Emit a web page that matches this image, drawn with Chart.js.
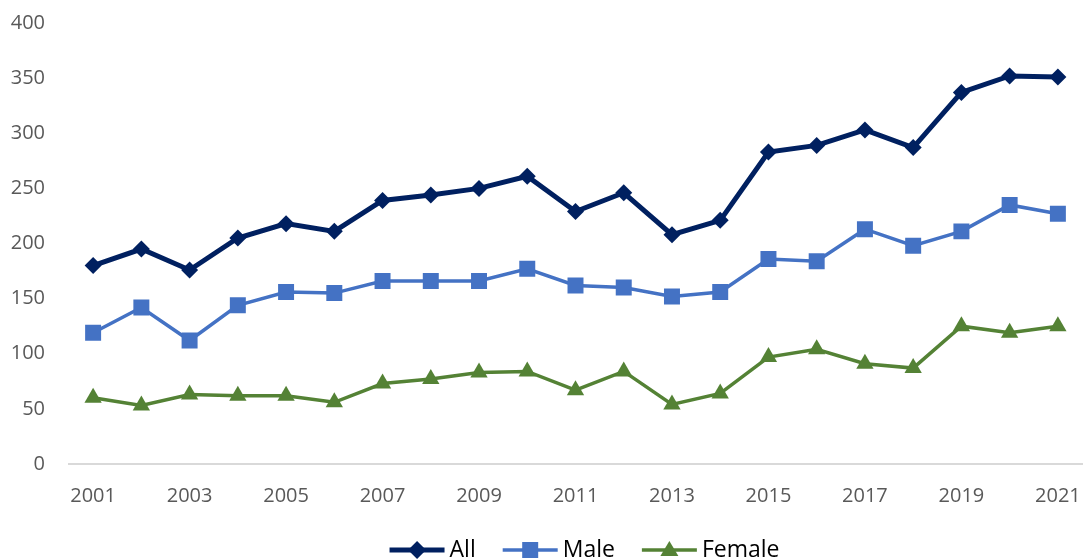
<!DOCTYPE html>
<html>
<head>
<meta charset="utf-8">
<script src="https://cdn.jsdelivr.net/npm/chart.js@4/dist/chart.umd.min.js"></script>
<style>
  html, body { margin: 0; padding: 0; background: #fff; }
  #wrap { width: 1083px; height: 560px; position: relative; }
</style>
</head>
<body>
<div id="wrap"><canvas id="chart"></canvas></div>
<script>
const YEARS = ['2001', '2002', '2003', '2004', '2005', '2006', '2007', '2008', '2009', '2010',
  '2011', '2012', '2013', '2014', '2015', '2016', '2017', '2018', '2019', '2020', '2021']

const ALL = [180, 195, 176, 205, 218, 211, 239, 244, 250, 261, 229, 246, 208, 221, 283, 289, 303, 287, 337, 352, 351]
const MALE = [119, 142, 112, 144, 156, 155, 166, 166, 166, 177, 162, 160, 152, 156, 186, 184, 213, 198, 211, 235, 227]
const FEMALE = [60, 53, 63, 62, 62, 56, 73, 77, 83, 84, 67, 84, 54, 64, 97, 104, 91, 87, 125, 119, 125]

const Y_TICKS = [0, 50, 100, 150, 200, 250, 300, 350, 400]

const TICK_COLOR = '#595959'
const FONT = "'Open Sans', 'Liberation Sans', sans-serif"

// legend drawn by hand so each entry shows line + marker like the original
const lineLegend = {
  id: 'lineLegend',
  afterDraw (chart) {
    const { ctx, chartArea } = chart
    const lineLen = 55
    const gap = 5
    const between = 27
    const y = 550
    ctx.save()
    ctx.font = `23px ${FONT}`
    ctx.textBaseline = 'middle'
    const items = chart.data.datasets.map((ds) => ({ ds, w: ctx.measureText(ds.label).width }))
    const total = items.reduce((s, it) => s + lineLen + gap + it.w, 0) + between * (items.length - 1)
    let x = (chartArea.left + chartArea.right) / 2 + 9 - total / 2
    items.forEach(({ ds, w }) => {
      ctx.strokeStyle = ds.borderColor
      ctx.lineWidth = ds.borderWidth
      ctx.beginPath()
      ctx.moveTo(x, y)
      ctx.lineTo(x + lineLen, y)
      ctx.stroke()
      const cx = x + lineLen / 2
      ctx.fillStyle = ds.pointBackgroundColor
      ctx.beginPath()
      if (ds.pointStyle === 'rectRot') {
        const r = 9
        ctx.moveTo(cx, y - r); ctx.lineTo(cx + r, y); ctx.lineTo(cx, y + r); ctx.lineTo(cx - r, y)
      } else if (ds.pointStyle === 'rect') {
        ctx.rect(cx - 8, y - 8, 16, 16)
      } else {
        ctx.moveTo(cx, y - 9); ctx.lineTo(cx + 9, y + 6); ctx.lineTo(cx - 9, y + 6)
      }
      ctx.closePath()
      ctx.fill()
      ctx.fillStyle = '#000'
      ctx.textAlign = 'left'
      ctx.fillText(ds.label, x + lineLen + gap, y)
      x += lineLen + gap + w + between
    })
    ctx.restore()
  }
}

new Chart(document.getElementById('chart'), {
  type: 'line',
  data: {
    labels: YEARS,
    datasets: [
      {
        label: 'All',
        data: ALL,
        borderColor: '#002060',
        backgroundColor: '#002060',
        pointBackgroundColor: '#002060',
        pointBorderColor: '#002060',
        borderWidth: 5,
        pointStyle: 'rectRot',
        pointRadius: 8.5,
        pointBorderWidth: 0,
        tension: 0
      },
      {
        label: 'Male',
        data: MALE,
        borderColor: '#4472C4',
        backgroundColor: '#4472C4',
        pointBackgroundColor: '#4472C4',
        pointBorderColor: '#4472C4',
        borderWidth: 3.5,
        pointStyle: 'rect',
        pointRadius: 11.3,
        pointBorderWidth: 0,
        tension: 0
      },
      {
        label: 'Female',
        data: FEMALE,
        borderColor: '#548235',
        backgroundColor: '#548235',
        pointBackgroundColor: '#548235',
        pointBorderColor: '#548235',
        borderWidth: 3.5,
        pointStyle: 'triangle',
        pointRadius: 10,
        pointBorderWidth: 0,
        tension: 0
      }
    ]
  },
  options: {
    responsive: true,
    maintainAspectRatio: false,
    animation: false,
    layout: { autoPadding: false, padding: { top: 23, right: 1, bottom: 46, left: 0 } },
    plugins: {
      legend: { display: false },
      tooltip: { enabled: false }
    },
    scales: {
      x: {
        offset: true,
        grid: { display: false, drawTicks: false },
        border: { display: true, color: '#d9d9d9', width: 2 },
        ticks: {
          autoSkip: false,
          maxRotation: 0,
          padding: 20,
          color: TICK_COLOR,
          font: { family: FONT, size: 20 },
          callback (value, index) { return index % 2 === 0 ? YEARS[index] : '' }
        },
        afterFit (scale) {
          scale.height = 50
          scale.paddingLeft = 0
          scale.paddingRight = 0
        }
      },
      y: {
        min: 0,
        max: 400,
        afterBuildTicks (scale) { scale.ticks = Y_TICKS.map((v) => ({ value: v })) },
        grid: { display: false, drawTicks: false },
        border: { display: false },
        ticks: {
          padding: 24,
          color: TICK_COLOR,
          font: { family: FONT, size: 20 }
        },
        afterFit (scale) {
          scale.width = 69
          scale.paddingTop = 0
          scale.paddingBottom = 0
        }
      }
    }
  },
  plugins: [lineLegend]
})
</script>
</body>
</html>
